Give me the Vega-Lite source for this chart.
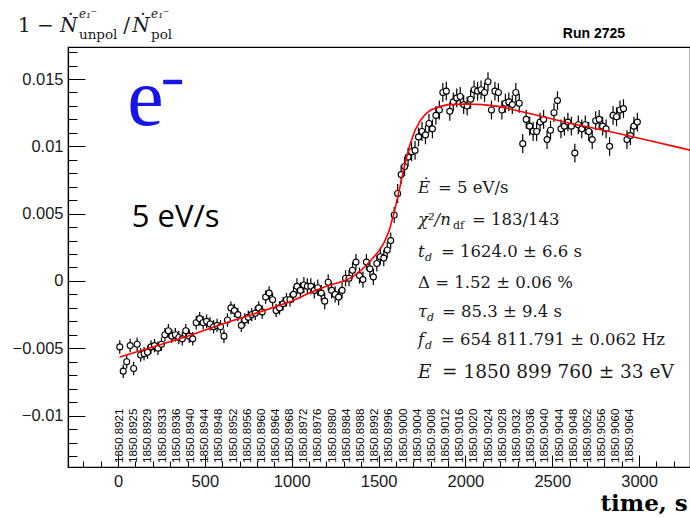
{
  "$schema": "https://vega.github.io/schema/vega-lite/v6.json",
  "width": 622,
  "height": 420,
  "autosize": {"type": "none"},
  "padding": {"left": 68, "top": 47, "right": 0, "bottom": 50},
  "background": "white",
  "config": {"view": {"stroke": "black", "strokeWidth": 1.2}},
  "data": {"values": [{}]},
  "datasets": {
    "pts": [
      {"t":10,"v":-0.0049,"err":0.0005},{"t":30,"v":-0.0067,"err":0.0005},{"t":50,"v":-0.0060,"err":0.0005},{"t":70,"v":-0.0048,"err":0.0005},
      {"t":90,"v":-0.0065,"err":0.0005},{"t":110,"v":-0.0047,"err":0.0005},{"t":130,"v":-0.0055,"err":0.0005},{"t":150,"v":-0.0054,"err":0.0005},
      {"t":170,"v":-0.0053,"err":0.0005},{"t":190,"v":-0.0049,"err":0.0005},{"t":210,"v":-0.0048,"err":0.0005},{"t":230,"v":-0.0050,"err":0.0005},
      {"t":250,"v":-0.0047,"err":0.0005},{"t":270,"v":-0.0040,"err":0.0005},{"t":290,"v":-0.0037,"err":0.0005},{"t":310,"v":-0.0041,"err":0.0005},
      {"t":330,"v":-0.0040,"err":0.0005},{"t":350,"v":-0.0042,"err":0.0005},{"t":370,"v":-0.0043,"err":0.0005},{"t":390,"v":-0.0037,"err":0.0005},
      {"t":410,"v":-0.0041,"err":0.0005},{"t":430,"v":-0.0043,"err":0.0005},{"t":450,"v":-0.0031,"err":0.0005},{"t":470,"v":-0.0028,"err":0.0005},
      {"t":490,"v":-0.0031,"err":0.0005},{"t":510,"v":-0.0030,"err":0.0005},{"t":530,"v":-0.0032,"err":0.0005},{"t":550,"v":-0.0034,"err":0.0005},
      {"t":570,"v":-0.0033,"err":0.0005},{"t":590,"v":-0.0034,"err":0.0005},{"t":610,"v":-0.0041,"err":0.0005},{"t":630,"v":-0.0029,"err":0.0005},
      {"t":650,"v":-0.0020,"err":0.0005},{"t":670,"v":-0.0022,"err":0.0005},{"t":690,"v":-0.0025,"err":0.0005},{"t":710,"v":-0.0033,"err":0.0005},
      {"t":730,"v":-0.0029,"err":0.0005},{"t":750,"v":-0.0027,"err":0.0005},{"t":770,"v":-0.0025,"err":0.0005},{"t":790,"v":-0.0024,"err":0.0005},
      {"t":810,"v":-0.0020,"err":0.0005},{"t":830,"v":-0.0023,"err":0.0005},{"t":850,"v":-0.0012,"err":0.0005},{"t":870,"v":-0.0009,"err":0.0005},
      {"t":890,"v":-0.0014,"err":0.0005},{"t":910,"v":-0.0022,"err":0.0005},{"t":930,"v":-0.0020,"err":0.0005},{"t":950,"v":-0.0017,"err":0.0005},
      {"t":970,"v":-0.0014,"err":0.0005},{"t":990,"v":-0.0014,"err":0.0005},{"t":1010,"v":-0.0010,"err":0.0006},{"t":1030,"v":-0.0004,"err":0.0006},
      {"t":1050,"v":-0.0007,"err":0.0006},{"t":1070,"v":-0.0003,"err":0.0006},{"t":1090,"v":-0.0004,"err":0.0006},{"t":1110,"v":-0.0004,"err":0.0006},
      {"t":1130,"v":-0.0007,"err":0.0006},{"t":1150,"v":-0.0005,"err":0.0006},{"t":1170,"v":-0.0009,"err":0.0006},{"t":1190,"v":-0.0015,"err":0.0006},
      {"t":1210,"v":-0.0001,"err":0.0006},{"t":1230,"v":-0.0007,"err":0.0006},{"t":1250,"v":-0.0010,"err":0.0006},{"t":1270,"v":-0.0012,"err":0.0006},
      {"t":1290,"v":-0.0007,"err":0.0006},{"t":1310,"v":0.0002,"err":0.0006},{"t":1330,"v":0.0002,"err":0.0006},{"t":1350,"v":0.0008,"err":0.0006},
      {"t":1370,"v":0.0014,"err":0.0006},{"t":1390,"v":0.0004,"err":0.0006},{"t":1410,"v":0.0001,"err":0.0006},{"t":1430,"v":0.0014,"err":0.0006},
      {"t":1450,"v":0.0009,"err":0.0006},{"t":1470,"v":0.0003,"err":0.0006},{"t":1490,"v":0.0013,"err":0.0006},{"t":1510,"v":0.0018,"err":0.0006},
      {"t":1530,"v":0.0017,"err":0.0006},{"t":1550,"v":0.0023,"err":0.0006},{"t":1570,"v":0.0030,"err":0.0006},{"t":1590,"v":0.0049,"err":0.0006},
      {"t":1610,"v":0.0065,"err":0.0007},{"t":1630,"v":0.0079,"err":0.0007},{"t":1650,"v":0.0085,"err":0.0007},{"t":1670,"v":0.0092,"err":0.0007},
      {"t":1690,"v":0.0096,"err":0.0007},{"t":1710,"v":0.0097,"err":0.0007},{"t":1730,"v":0.0107,"err":0.0007},{"t":1750,"v":0.0111,"err":0.0007},
      {"t":1770,"v":0.01085,"err":0.0007},{"t":1790,"v":0.0117,"err":0.0007},{"t":1810,"v":0.0113,"err":0.0007},{"t":1830,"v":0.0123,"err":0.0007},
      {"t":1850,"v":0.0127,"err":0.0007},{"t":1870,"v":0.0140,"err":0.0007},{"t":1890,"v":0.0141,"err":0.0007},{"t":1910,"v":0.0126,"err":0.0007},
      {"t":1930,"v":0.0133,"err":0.0007},{"t":1950,"v":0.0136,"err":0.0007},{"t":1970,"v":0.0137,"err":0.0007},{"t":1990,"v":0.0131,"err":0.0007},
      {"t":2010,"v":0.0130,"err":0.0007},{"t":2030,"v":0.0135,"err":0.0007},{"t":2050,"v":0.0142,"err":0.0007},{"t":2070,"v":0.0141,"err":0.0007},
      {"t":2090,"v":0.0142,"err":0.0007},{"t":2110,"v":0.0140,"err":0.0007},{"t":2130,"v":0.0148,"err":0.0007},{"t":2150,"v":0.0127,"err":0.0007},
      {"t":2170,"v":0.0141,"err":0.0007},{"t":2190,"v":0.0140,"err":0.0007},{"t":2210,"v":0.0127,"err":0.0007},{"t":2230,"v":0.0132,"err":0.0007},
      {"t":2250,"v":0.0133,"err":0.0007},{"t":2270,"v":0.0131,"err":0.0007},{"t":2290,"v":0.0140,"err":0.0007},{"t":2310,"v":0.0132,"err":0.0007},
      {"t":2330,"v":0.0102,"err":0.0007},{"t":2350,"v":0.0120,"err":0.0007},{"t":2370,"v":0.0115,"err":0.0007},{"t":2390,"v":0.0111,"err":0.0007},
      {"t":2410,"v":0.0111,"err":0.0007},{"t":2430,"v":0.0118,"err":0.0007},{"t":2450,"v":0.0120,"err":0.0007},{"t":2470,"v":0.0105,"err":0.0007},
      {"t":2490,"v":0.0112,"err":0.0007},{"t":2510,"v":0.0125,"err":0.0007},{"t":2530,"v":0.0134,"err":0.0007},{"t":2550,"v":0.0113,"err":0.0007},
      {"t":2570,"v":0.0115,"err":0.0007},{"t":2590,"v":0.0118,"err":0.0007},{"t":2610,"v":0.0115,"err":0.0007},{"t":2630,"v":0.0095,"err":0.0007},
      {"t":2650,"v":0.0116,"err":0.0007},{"t":2670,"v":0.0113,"err":0.0007},{"t":2690,"v":0.0116,"err":0.0007},{"t":2710,"v":0.0111,"err":0.0007},
      {"t":2730,"v":0.0105,"err":0.0007},{"t":2750,"v":0.0119,"err":0.0007},{"t":2770,"v":0.0120,"err":0.0007},{"t":2790,"v":0.0115,"err":0.0007},
      {"t":2810,"v":0.0113,"err":0.0007},{"t":2830,"v":0.0100,"err":0.0007},{"t":2850,"v":0.0123,"err":0.0007},{"t":2870,"v":0.0122,"err":0.0007},
      {"t":2890,"v":0.0127,"err":0.0007},{"t":2910,"v":0.0128,"err":0.0007},{"t":2930,"v":0.0105,"err":0.0007},{"t":2950,"v":0.0108,"err":0.0007},
      {"t":2970,"v":0.0115,"err":0.0007},{"t":2990,"v":0.0118,"err":0.0007}
    ],
    "fit": [
      {"t":10,"v":-0.00565},{"t":200,"v":-0.0049},{"t":400,"v":-0.0041},{"t":600,"v":-0.0032},{"t":800,"v":-0.00237},
      {"t":1000,"v":-0.0015},{"t":1100,"v":-0.0009},{"t":1200,"v":-0.0004},{"t":1300,"v":0.0},{"t":1350,"v":0.0003},
      {"t":1400,"v":0.0008},{"t":1450,"v":0.00145},{"t":1500,"v":0.0022},{"t":1530,"v":0.0028},{"t":1560,"v":0.0037},
      {"t":1590,"v":0.0051},{"t":1620,"v":0.0068},{"t":1650,"v":0.0086},{"t":1680,"v":0.0101},{"t":1710,"v":0.0112},
      {"t":1740,"v":0.0119},{"t":1770,"v":0.0124},{"t":1800,"v":0.0127},{"t":1850,"v":0.01295},{"t":1900,"v":0.0131},
      {"t":2000,"v":0.01315},{"t":2100,"v":0.0131},{"t":2200,"v":0.01295},{"t":2300,"v":0.01265},{"t":2400,"v":0.01235},
      {"t":2500,"v":0.01203},{"t":2600,"v":0.01172},{"t":2700,"v":0.01145},{"t":2800,"v":0.01118},{"t":2900,"v":0.0109},
      {"t":3000,"v":0.0106},{"t":3100,"v":0.0103},{"t":3200,"v":0.0100},{"t":3300,"v":0.0097}
    ],
    "runs": [
      {"t":12,"run":"1850.8921"},{"t":94,"run":"1850.8925"},{"t":175,"run":"1850.8929"},{"t":257,"run":"1850.8933"},
      {"t":338,"run":"1850.8936"},{"t":420,"run":"1850.8940"},{"t":502,"run":"1850.8944"},{"t":583,"run":"1850.8948"},
      {"t":665,"run":"1850.8952"},{"t":746,"run":"1850.8956"},{"t":828,"run":"1850.8960"},{"t":910,"run":"1850.8964"},
      {"t":991,"run":"1850.8968"},{"t":1073,"run":"1850.8972"},{"t":1154,"run":"1850.8976"},{"t":1236,"run":"1850.8980"},
      {"t":1318,"run":"1850.8984"},{"t":1399,"run":"1850.8988"},{"t":1481,"run":"1850.8992"},{"t":1562,"run":"1850.8996"},
      {"t":1644,"run":"1850.9000"},{"t":1726,"run":"1850.9004"},{"t":1807,"run":"1850.9008"},{"t":1889,"run":"1850.9012"},
      {"t":1970,"run":"1850.9016"},{"t":2052,"run":"1850.9020"},{"t":2134,"run":"1850.9024"},{"t":2215,"run":"1850.9028"},
      {"t":2297,"run":"1850.9032"},{"t":2378,"run":"1850.9036"},{"t":2460,"run":"1850.9040"},{"t":2542,"run":"1850.9044"},
      {"t":2623,"run":"1850.9048"},{"t":2705,"run":"1850.9052"},{"t":2786,"run":"1850.9056"},{"t":2868,"run":"1850.9060"},
      {"t":2948,"run":"1850.9064"}
    ]
  },
  "resolve": {"axis": {"x": "independent", "y": "independent"}},
  "layer": [
    {
      "data": {"name": "pts"},
      "mark": {"type": "errorbar", "color": "black", "thickness": 1.2},
      "encoding": {
        "x": {"field": "t", "type": "quantitative",
              "scale": {"domain": [-288, 3293], "nice": false, "zero": false},
              "axis": {"orient": "bottom", "values": [0, 500, 1000, 1500, 2000, 2500, 3000], "format": "d", "tickSize": -12, "tickColor": "black", "tickWidth": 1,
                       "domainColor": "black", "domainWidth": 1.2, "grid": false, "labelFont": "Liberation Sans", "labelFontSize": 16.5,
                       "labelColor": "#1a1a1a", "labelPadding": 18, "labelFlush": false, "labelOverlap": false,
                       "title": "time, s", "titleFont": "DejaVu Serif", "titleFontWeight": "bold", "titleFontSize": 23, "titleColor": "black",
                       "titleX": 532, "titleY": 43, "titleAlign": "left", "titleBaseline": "alphabetic", "titleAnchor": null}},
        "y": {"field": "v", "type": "quantitative",
              "scale": {"domain": [-0.01382, 0.01738], "nice": false, "zero": false},
              "axis": {"orient": "left", "values": [-0.01, -0.005, 0, 0.005, 0.01, 0.015], "format": "~g", "tickSize": -17, "tickColor": "black", "tickWidth": 1,
                       "domainColor": "black", "domainWidth": 1.2, "grid": false, "labelFont": "Liberation Sans", "labelFontSize": 16.5,
                       "labelColor": "#1a1a1a", "labelPadding": 22, "labelFlush": false, "labelOverlap": false, "title": null}},
        "yError": {"field": "err"}
      }
    },
    {
      "data": {"name": "pts"},
      "mark": {"type": "point", "shape": "circle", "filled": true, "fill": "white", "stroke": "black", "strokeWidth": 1.1, "size": 36, "opacity": 1},
      "encoding": {
        "x": {"field": "t", "type": "quantitative", "axis": null},
        "y": {"field": "v", "type": "quantitative", "axis": null}
      }
    },
    {
      "data": {"name": "fit"},
      "mark": {"type": "line", "color": "#ff0000", "strokeWidth": 1.6, "clip": true},
      "encoding": {
        "x": {"field": "t", "type": "quantitative",
              "axis": {"orient": "bottom", "values": [-200,-100,0,100,200,300,400,500,600,700,800,900,1000,1100,1200,1300,1400,1500,1600,1700,1800,1900,2000,2100,2200,2300,2400,2500,2600,2700,2800,2900,3000,3100,3200],
                       "tickSize": -6, "tickColor": "black", "tickWidth": 1, "labels": false, "domain": false, "grid": false, "title": null}},
        "y": {"field": "v", "type": "quantitative",
              "axis": {"orient": "left", "values": [-0.013,-0.012,-0.011,-0.01,-0.009,-0.008,-0.007,-0.006,-0.005,-0.004,-0.003,-0.002,-0.001,0,0.001,0.002,0.003,0.004,0.005,0.006,0.007,0.008,0.009,0.01,0.011,0.012,0.013,0.014,0.015,0.016,0.017],
                       "tickSize": -9, "tickColor": "black", "tickWidth": 1, "labels": false, "domain": false, "grid": false, "title": null}}
      }
    },
    {
      "data": {"name": "runs"},
      "mark": {"type": "text", "angle": 270, "align": "left", "baseline": "middle", "font": "Liberation Sans", "fontSize": 11.5, "color": "black"},
      "encoding": {
        "x": {"field": "t", "type": "quantitative", "axis": null},
        "y": {"datum": -0.01352, "type": "quantitative", "axis": null},
        "text": {"field": "run"}
      }
    },
    {
      "mark": {"type": "text", "text": "e", "font": "Liberation Serif", "fontSize": 82, "color": "#1515e8", "align": "center", "baseline": "alphabetic"},
      "encoding": {"x": {"datum": 158, "type": "quantitative", "axis": null}, "y": {"datum": 0.01159, "type": "quantitative", "axis": null}}
    },
    {
      "mark": {"type": "rule", "color": "#1515e8", "strokeWidth": 4.5},
      "encoding": {"x": {"datum": 260, "type": "quantitative", "axis": null}, "x2": {"datum": 369}, "y": {"datum": 0.01478, "type": "quantitative", "axis": null}}
    },
    {
      "mark": {"type": "text", "text": "5 eV/s", "font": "Open Sans", "fontSize": 31, "color": "black", "align": "left", "baseline": "alphabetic"},
      "encoding": {"x": {"datum": 79, "type": "quantitative", "axis": null}, "y": {"datum": 0.00403, "type": "quantitative", "axis": null}}
    },
    {
      "mark": {"type": "text", "text": "Ė", "font": "DejaVu Serif", "fontStyle": "italic", "fontSize": 16.5, "color": "#1a1a1a", "align": "left", "baseline": "alphabetic"},
      "encoding": {"x": {"datum": 1727, "type": "quantitative", "axis": null}, "y": {"datum": 0.006516, "type": "quantitative", "axis": null}}
    },
    {
      "mark": {"type": "text", "text": "= 5 eV/s", "font": "DejaVu Serif", "fontSize": 16.5, "color": "#1a1a1a", "align": "left", "baseline": "alphabetic", "dx": 20},
      "encoding": {"x": {"datum": 1727, "type": "quantitative", "axis": null}, "y": {"datum": 0.006516, "type": "quantitative", "axis": null}}
    },
    {
      "mark": {"type": "text", "text": "χ²/n", "font": "DejaVu Serif", "fontStyle": "italic", "fontSize": 16.5, "color": "#1a1a1a", "align": "left", "baseline": "alphabetic"},
      "encoding": {"x": {"datum": 1727, "type": "quantitative", "axis": null}, "y": {"datum": 0.00416, "type": "quantitative", "axis": null}}
    },
    {
      "mark": {"type": "text", "text": "df", "font": "DejaVu Serif", "fontSize": 11, "color": "#1a1a1a", "align": "left", "baseline": "alphabetic", "dx": 35, "dy": 4},
      "encoding": {"x": {"datum": 1727, "type": "quantitative", "axis": null}, "y": {"datum": 0.00416, "type": "quantitative", "axis": null}}
    },
    {
      "mark": {"type": "text", "text": "= 183/143", "font": "DejaVu Serif", "fontSize": 16.5, "color": "#1a1a1a", "align": "left", "baseline": "alphabetic", "dx": 54},
      "encoding": {"x": {"datum": 1727, "type": "quantitative", "axis": null}, "y": {"datum": 0.00416, "type": "quantitative", "axis": null}}
    },
    {
      "mark": {"type": "text", "text": "t", "font": "DejaVu Serif", "fontStyle": "italic", "fontSize": 16.5, "color": "#1a1a1a", "align": "left", "baseline": "alphabetic"},
      "encoding": {"x": {"datum": 1727, "type": "quantitative", "axis": null}, "y": {"datum": 0.001805, "type": "quantitative", "axis": null}}
    },
    {
      "mark": {"type": "text", "text": "d", "font": "DejaVu Serif", "fontStyle": "italic", "fontSize": 11, "color": "#1a1a1a", "align": "left", "baseline": "alphabetic", "dx": 7, "dy": 4},
      "encoding": {"x": {"datum": 1727, "type": "quantitative", "axis": null}, "y": {"datum": 0.001805, "type": "quantitative", "axis": null}}
    },
    {
      "mark": {"type": "text", "text": "= 1624.0 ± 6.6 s", "font": "DejaVu Serif", "fontSize": 16.5, "color": "#1a1a1a", "align": "left", "baseline": "alphabetic", "dx": 23},
      "encoding": {"x": {"datum": 1727, "type": "quantitative", "axis": null}, "y": {"datum": 0.001805, "type": "quantitative", "axis": null}}
    },
    {
      "mark": {"type": "text", "text": "Δ = 1.52 ± 0.06 %", "font": "DejaVu Serif", "fontSize": 16.5, "color": "#1a1a1a", "align": "left", "baseline": "alphabetic"},
      "encoding": {"x": {"datum": 1727, "type": "quantitative", "axis": null}, "y": {"datum": -0.000498, "type": "quantitative", "axis": null}}
    },
    {
      "mark": {"type": "text", "text": "τ", "font": "DejaVu Serif", "fontStyle": "italic", "fontSize": 16.5, "color": "#1a1a1a", "align": "left", "baseline": "alphabetic"},
      "encoding": {"x": {"datum": 1727, "type": "quantitative", "axis": null}, "y": {"datum": -0.002652, "type": "quantitative", "axis": null}}
    },
    {
      "mark": {"type": "text", "text": "d", "font": "DejaVu Serif", "fontStyle": "italic", "fontSize": 11, "color": "#1a1a1a", "align": "left", "baseline": "alphabetic", "dx": 9, "dy": 4},
      "encoding": {"x": {"datum": 1727, "type": "quantitative", "axis": null}, "y": {"datum": -0.002652, "type": "quantitative", "axis": null}}
    },
    {
      "mark": {"type": "text", "text": "= 85.3 ± 9.4 s", "font": "DejaVu Serif", "fontSize": 16.5, "color": "#1a1a1a", "align": "left", "baseline": "alphabetic", "dx": 24},
      "encoding": {"x": {"datum": 1727, "type": "quantitative", "axis": null}, "y": {"datum": -0.002652, "type": "quantitative", "axis": null}}
    },
    {
      "mark": {"type": "text", "text": "f", "font": "DejaVu Serif", "fontStyle": "italic", "fontSize": 16.5, "color": "#1a1a1a", "align": "left", "baseline": "alphabetic"},
      "encoding": {"x": {"datum": 1727, "type": "quantitative", "axis": null}, "y": {"datum": -0.004755, "type": "quantitative", "axis": null}}
    },
    {
      "mark": {"type": "text", "text": "d", "font": "DejaVu Serif", "fontStyle": "italic", "fontSize": 11, "color": "#1a1a1a", "align": "left", "baseline": "alphabetic", "dx": 7, "dy": 4},
      "encoding": {"x": {"datum": 1727, "type": "quantitative", "axis": null}, "y": {"datum": -0.004755, "type": "quantitative", "axis": null}}
    },
    {
      "mark": {"type": "text", "text": "= 654 811.791 ± 0.062 Hz", "font": "DejaVu Serif", "fontSize": 16.5, "color": "#1a1a1a", "align": "left", "baseline": "alphabetic", "dx": 23},
      "encoding": {"x": {"datum": 1727, "type": "quantitative", "axis": null}, "y": {"datum": -0.004755, "type": "quantitative", "axis": null}}
    },
    {
      "mark": {"type": "text", "text": "E", "font": "DejaVu Serif", "fontStyle": "italic", "fontSize": 18.5, "color": "#1a1a1a", "align": "left", "baseline": "alphabetic"},
      "encoding": {"x": {"datum": 1727, "type": "quantitative", "axis": null}, "y": {"datum": -0.007229, "type": "quantitative", "axis": null}}
    },
    {
      "mark": {"type": "text", "text": "= 1850 899 760 ± 33 eV", "font": "DejaVu Serif", "fontSize": 18.5, "color": "#1a1a1a", "align": "left", "baseline": "alphabetic", "dx": 24},
      "encoding": {"x": {"datum": 1727, "type": "quantitative", "axis": null}, "y": {"datum": -0.007229, "type": "quantitative", "axis": null}}
    },
    {
      "mark": {"type": "text", "text": "1 −", "font": "DejaVu Serif", "fontSize": 20, "color": "#1a1a1a", "align": "left", "baseline": "alphabetic"},
      "encoding": {"x": {"datum": -576, "type": "quantitative", "axis": null}, "y": {"datum": 0.0185, "type": "quantitative", "axis": null}}
    },
    {
      "mark": {"type": "text", "text": "Ṅ", "font": "DejaVu Serif", "fontStyle": "italic", "fontSize": 20, "color": "#1a1a1a", "align": "left", "baseline": "alphabetic"},
      "encoding": {"x": {"datum": -334, "type": "quantitative", "axis": null}, "y": {"datum": 0.0185, "type": "quantitative", "axis": null}}
    },
    {
      "mark": {"type": "text", "text": "e₁⁻", "font": "DejaVu Serif", "fontStyle": "italic", "fontSize": 12, "color": "#1a1a1a", "align": "left", "baseline": "alphabetic"},
      "encoding": {"x": {"datum": -225, "type": "quantitative", "axis": null}, "y": {"datum": 0.01954, "type": "quantitative", "axis": null}}
    },
    {
      "mark": {"type": "text", "text": "unpol", "font": "DejaVu Serif", "fontSize": 13.5, "color": "#1a1a1a", "align": "left", "baseline": "alphabetic"},
      "encoding": {"x": {"datum": -225, "type": "quantitative", "axis": null}, "y": {"datum": 0.01798, "type": "quantitative", "axis": null}}
    },
    {
      "mark": {"type": "text", "text": "/", "font": "DejaVu Serif", "fontSize": 20, "color": "#1a1a1a", "align": "left", "baseline": "alphabetic"},
      "encoding": {"x": {"datum": 30, "type": "quantitative", "axis": null}, "y": {"datum": 0.0185, "type": "quantitative", "axis": null}}
    },
    {
      "mark": {"type": "text", "text": "Ṅ", "font": "DejaVu Serif", "fontStyle": "italic", "fontSize": 20, "color": "#1a1a1a", "align": "left", "baseline": "alphabetic"},
      "encoding": {"x": {"datum": 82, "type": "quantitative", "axis": null}, "y": {"datum": 0.0185, "type": "quantitative", "axis": null}}
    },
    {
      "mark": {"type": "text", "text": "e₁⁻", "font": "DejaVu Serif", "fontStyle": "italic", "fontSize": 12, "color": "#1a1a1a", "align": "left", "baseline": "alphabetic"},
      "encoding": {"x": {"datum": 190, "type": "quantitative", "axis": null}, "y": {"datum": 0.01954, "type": "quantitative", "axis": null}}
    },
    {
      "mark": {"type": "text", "text": "pol", "font": "DejaVu Serif", "fontSize": 13.5, "color": "#1a1a1a", "align": "left", "baseline": "alphabetic"},
      "encoding": {"x": {"datum": 190, "type": "quantitative", "axis": null}, "y": {"datum": 0.01798, "type": "quantitative", "axis": null}}
    },
    {
      "mark": {"type": "text", "text": "Run  2725", "font": "Liberation Sans", "fontWeight": "bold", "fontSize": 14, "color": "black", "align": "right", "baseline": "alphabetic"},
      "encoding": {"x": {"datum": 2919, "type": "quantitative", "axis": null}, "y": {"datum": 0.01805, "type": "quantitative", "axis": null}}
    }
  ]
}
